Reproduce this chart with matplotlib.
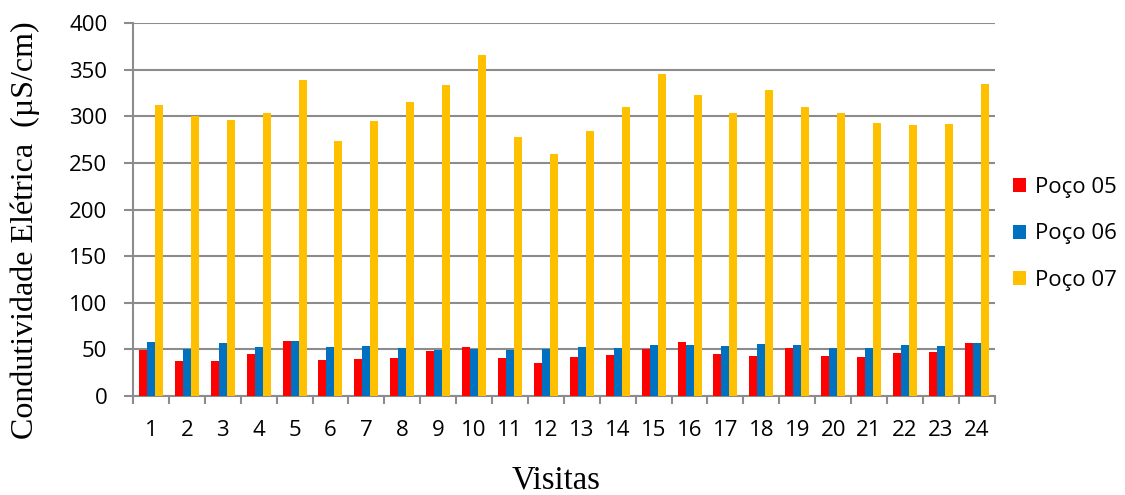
import numpy as np
import matplotlib.pyplot as plt
from matplotlib.ticker import MultipleLocator, FixedLocator

visitas = [str(i) for i in range(1, 25)]
poco05 = [49, 37, 38, 45, 59, 39, 40, 41, 48, 53, 41, 35, 42, 44, 50, 58,
          45, 43, 52, 43, 42, 46, 47, 57]
poco06 = [58, 50, 57, 53, 59, 53, 54, 52, 49, 50, 49, 50, 53, 52, 55, 55,
          54, 56, 55, 51, 51, 55, 54, 57]
poco07 = [312, 300, 296, 304, 339, 274, 295, 315, 333, 366, 278, 260, 284,
          310, 345, 323, 303, 328, 310, 304, 293, 291, 292, 335]
series = [("Poço 05", poco05, "#FF0000"),
          ("Poço 06", poco06, "#0070C0"),
          ("Poço 07", poco07, "#FFC000")]

fig = plt.figure(figsize=(11.25, 4.95), dpi=100)
ax = fig.add_axes([0.1182, 0.2, 0.766, 0.7535])

x = np.arange(1, len(visitas) + 1)
w = 0.223
for k, (name, vals, col) in enumerate(series):
    ax.bar(x + (k - 1) * w, vals, width=w, color=col, label=name, zorder=3)

grid_col = "#8c8c8c"
ax.set_xlim(0.5, 24.5)
ax.set_ylim(0, 400)
ax.yaxis.set_major_locator(MultipleLocator(50))
ax.yaxis.grid(True, color=grid_col, linewidth=1.5, zorder=0)
ax.set_xticks(x)
ax.set_xticklabels(visitas)
ax.xaxis.set_minor_locator(FixedLocator(np.arange(0.5, 25, 1)))
ax.tick_params(axis="x", which="major", length=0, pad=17, labelsize=16)
ax.tick_params(axis="x", which="minor", length=6, width=1.5, color=grid_col)
ax.tick_params(axis="y", length=6.5, width=1.5, color=grid_col, labelsize=16,
               pad=12)
for lab in ax.get_xticklabels() + ax.get_yticklabels():
    lab.set_family("Open Sans")

for s in ["top", "right"]:
    ax.spines[s].set_visible(False)
for s in ["left", "bottom"]:
    ax.spines[s].set_color(grid_col)
    ax.spines[s].set_linewidth(1.5)

fig.text(25 / 1125, 1 - 230 / 495, "Condutividade Elétrica  (µS/cm)",
         family="Liberation Serif", fontsize=23, rotation=90,
         ha="center", va="center")
fig.text(556 / 1125, 1 - 480 / 495, "Visitas", family="Liberation Serif",
         fontsize=23.5, ha="center", va="center")

leg = ax.legend(loc="center left", bbox_to_anchor=(1013 / 1125, 1 - 234 / 495),
                bbox_transform=fig.transFigure, frameon=False,
                prop={"family": "Open Sans", "size": 16}, handlelength=0.6,
                handleheight=0.6, labelspacing=1.14, handletextpad=0.4,
                borderpad=0, borderaxespad=0)

fig.savefig("out.png", dpi=100)
